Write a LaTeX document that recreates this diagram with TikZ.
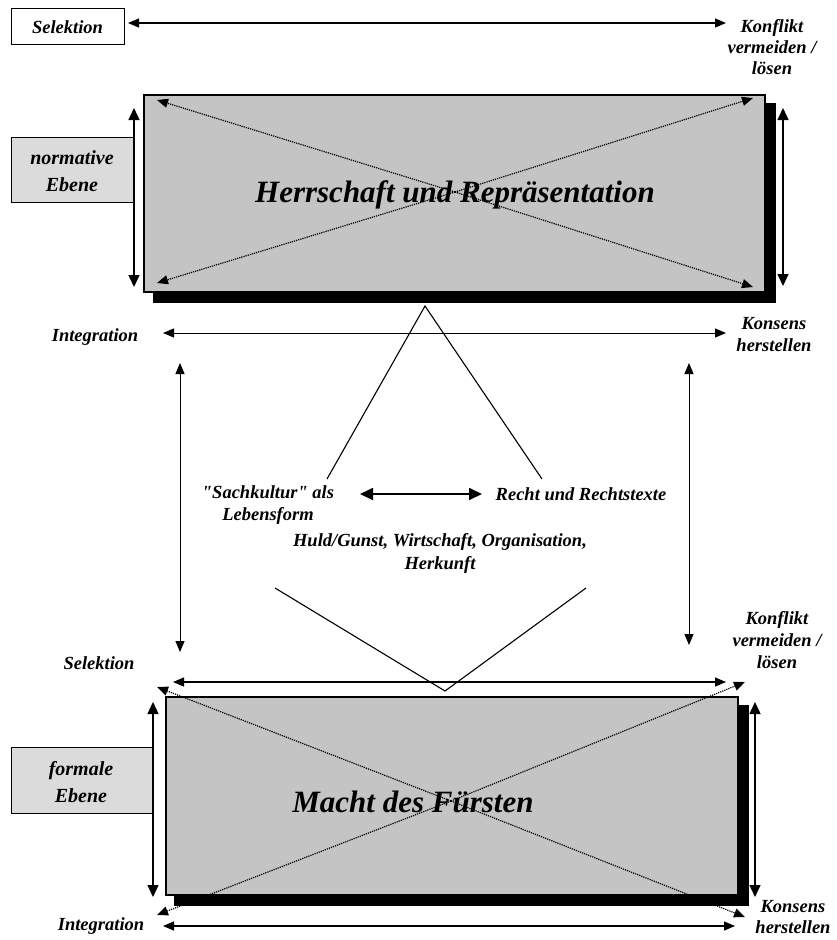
\documentclass[tikz,border=0pt]{standalone}
\usepackage{fontspec}
\setmainfont{Liberation Serif}[Ligatures=TeXOff]
\usetikzlibrary{arrows.meta}
\begin{document}
\begin{tikzpicture}[x=1pt,y=-1pt,
 lbl/.style={font=\fontsize{18.5}{22}\selectfont\bfseries\itshape, align=center, inner sep=0pt},
 lvl/.style={font=\fontsize{20}{27}\selectfont\bfseries\itshape, align=center, inner sep=0pt},
 big/.style={font=\fontsize{31}{36}\selectfont\bfseries\itshape, inner sep=0pt},
 dbl/.style={{Triangle[length=11pt,width=9pt]}-{Triangle[length=11pt,width=9pt]}, line width=1.2pt},
 vdbl/.style={{Triangle[length=12pt,width=11pt]}-{Triangle[length=12pt,width=11pt]}, line width=1.4pt},
 middbl/.style={{Triangle[length=13pt,width=12pt]}-{Triangle[length=13pt,width=12pt]}, line width=1.8pt},
 dotarr/.style={dash pattern=on 1.2pt off 1pt, line width=1.2pt, -{Triangle[length=11pt,width=9pt]}},
 mainbox/.style={draw, line width=2pt, fill=black!23, inner sep=0pt},
 shadowbox/.style={fill=black, inner sep=0pt},
 levelbox/.style={draw, line width=0.8pt, fill=black!14, inner sep=0pt},
 selbox/.style={draw, line width=1pt, fill=white, inner sep=0pt},
 thinline/.style={line width=1.1pt}
]
\useasboundingbox (0,0) rectangle (836,940);

% ---------------- top part ----------------
\node[selbox, minimum width=113pt, minimum height=36pt] (sel1) at (67.5,26) {};
\node[lbl] (sel1t) at (67.5,27) {Selektion};
\coordinate (s1l) at (128,23);
\coordinate (s1r) at (726,23);
\draw[dbl] (s1l) -- (s1r);
\node[lbl, font=\fontsize{18.5}{21}\selectfont\bfseries\itshape] (konf1) at (772,47) {Konflikt\\vermeiden /\\lösen};

\node[shadowbox, minimum width=623pt, minimum height=200pt] (hrsh) at (464.5,203) {};
\node[mainbox, minimum width=621pt, minimum height=197pt] (hr) at (454.5,193.5) {};
\coordinate (hrc) at (455,192);
\coordinate (hrtl) at (157,100);
\coordinate (hrtr) at (753,98);
\coordinate (hrbl) at (157,283);
\coordinate (hrbr) at (753,287);
\draw[dotarr] (hrc) -- (hrtl);
\draw[dotarr] (hrc) -- (hrtr);
\draw[dotarr] (hrc) -- (hrbl);
\draw[dotarr] (hrc) -- (hrbr);
\node[big] (hrt) at (455,195) {Herrschaft und Repräsentation};

\node[levelbox, minimum width=122pt, minimum height=65pt] (norm) at (72,169.5) {};
\node[lvl] (normt) at (72,171) {normative\\Ebene};
\coordinate (nl1) at (134,108);
\coordinate (nl2) at (134,287);
\draw[vdbl] (nl1) -- (nl2);
\coordinate (nr1) at (783,108);
\coordinate (nr2) at (783,286);
\draw[vdbl] (nr1) -- (nr2);

% ---------------- integration row ----------------
\node[lbl] (int1) at (95,337) {Integration};
\coordinate (i1l) at (163,333);
\coordinate (i1r) at (726,333);
\draw[dbl, line width=1pt] (i1l) -- (i1r);
\node[lbl, font=\fontsize{18.5}{22}\selectfont\bfseries\itshape] (kons1) at (774,335) {Konsens\\herstellen};

% vertical connectors
\coordinate (vl1) at (180,363);
\coordinate (vl2) at (180,652);
\draw[dbl, line width=1pt] (vl1) -- (vl2);
\coordinate (vr1) at (689,363);
\coordinate (vr2) at (689,645);
\draw[dbl, line width=1pt] (vr1) -- (vr2);

% triangle
\coordinate (apex) at (425,306);
\coordinate (footl) at (327,479);
\coordinate (footr) at (542,479);
\draw[thinline] (footl) -- (apex) -- (footr);

% middle texts
\node[lbl] (sach) at (268,505) {"Sachkultur" als\\Lebensform};
\node[lbl] (recht) at (581,494) {Recht und Rechtstexte};
\coordinate (ma1) at (360,494);
\coordinate (ma2) at (482,494);
\draw[middbl] (ma1) -- (ma2);
\node[lbl, font=\fontsize{18.5}{23}\selectfont\bfseries\itshape] (huld) at (440,553) {Huld/Gunst, Wirtschaft, Organisation,\\Herkunft};

% V shape
\coordinate (vsl) at (275,588);
\coordinate (vsb) at (445,691);
\coordinate (vsr) at (586,588);
\draw[thinline] (vsl) -- (vsb) -- (vsr);

% ---------------- bottom part ----------------
\node[lbl] (sel2) at (99,663) {Selektion};
\node[lbl, font=\fontsize{18.5}{22}\selectfont\bfseries\itshape] (konf2) at (777,640) {Konflikt\\vermeiden /\\lösen};
\coordinate (s2l) at (173,682);
\coordinate (s2r) at (726,682);
\draw[dbl] (s2l) -- (s2r);

\node[shadowbox, minimum width=575pt, minimum height=201pt] (mfsh) at (461.5,805.5) {};
\node[mainbox, minimum width=572pt, minimum height=198pt] (mf) at (452,796) {};
\coordinate (mfc) at (451,801);
\coordinate (mftl) at (157,687);
\coordinate (mftr) at (745,682);
\coordinate (mfbl) at (157,915);
\coordinate (mfbr) at (745,917);
\draw[dotarr] (mfc) -- (mftl);
\draw[dotarr] (mfc) -- (mftr);
\draw[dotarr] (mfc) -- (mfbl);
\draw[dotarr] (mfc) -- (mfbr);
\node[big] (mft) at (413,802) {Macht des Fürsten};

\node[levelbox, minimum width=141pt, minimum height=66pt] (form) at (81.5,780) {};
\node[lvl] (formt) at (81,782) {formale\\Ebene};
\coordinate (fl1) at (153,702);
\coordinate (fl2) at (153,897);
\draw[vdbl] (fl1) -- (fl2);
\coordinate (fr1) at (755,702);
\coordinate (fr2) at (755,897);
\draw[vdbl] (fr1) -- (fr2);

\node[lbl] (int2) at (101,926) {Integration};
\coordinate (i2l) at (163,926);
\coordinate (i2r) at (735,926);
\draw[dbl] (i2l) -- (i2r);
\node[lbl, font=\fontsize{18.5}{21}\selectfont\bfseries\itshape] (kons2) at (793,917) {Konsens\\herstellen};
\end{tikzpicture}
\end{document}
